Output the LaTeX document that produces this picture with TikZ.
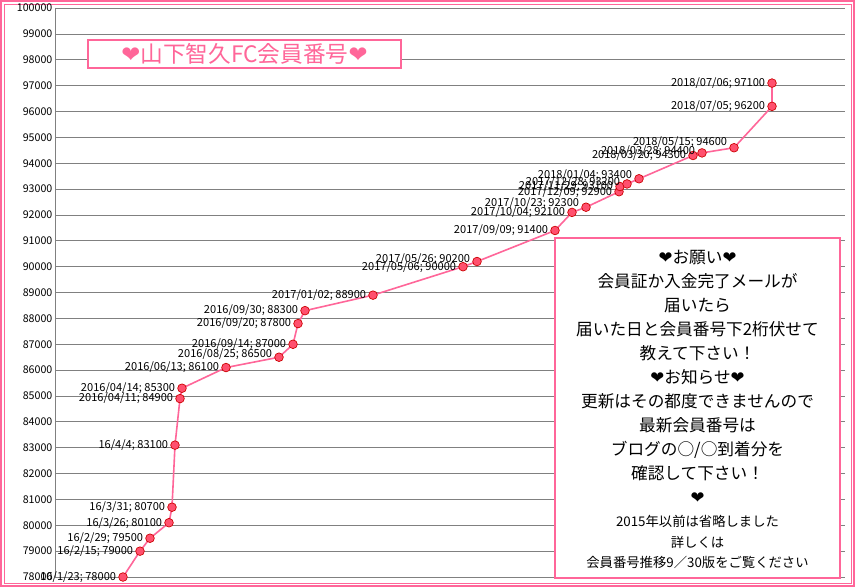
\documentclass[tikz,border=0pt]{standalone}
\usepackage{fontspec}
\setmainfont{Noto Sans CJK JP}
\newfontfamily\djv{DejaVu Sans}
\definecolor{pk}{RGB}{255,102,153}
\definecolor{dot}{RGB}{255,80,110}
\begin{document}
\begin{tikzpicture}[x=0.75pt,y=0.75pt,
  lab/.style={font=\fontsize{8.3}{9}\selectfont,anchor=east,inner sep=1pt},
  ax/.style={font=\fontsize{8}{9}\selectfont,anchor=east,inner sep=1pt},
  pt/.style={circle,fill=dot,draw=red!80!black,line width=0.5pt,minimum size=6.5pt,inner sep=0pt}]
\useasboundingbox (0,0) rectangle (855,-587);
\fill[white] (0,0) rectangle (855,-587);
\draw[pk,line width=0.8pt] (1,-1) rectangle (854,-586);
\draw[pk,line width=0.5pt] (4,-4) rectangle (851,-583);
\begin{scope}[shift={(0,-577)},y=19.395pt]
\foreach \v in {0,...,22}{
  \draw[gray,line width=0.6pt] (55,\v) -- (845,\v);
  \node[ax] (ax\v) at (54,\v) {\the\numexpr78000+1000*\v\relax};
}
\draw[gray,line width=0.6pt] (55,0) -- (55,22);
\foreach \n/\x/\v in {a/123/0, b/140/1, c/150/1.5, d/169/2.1, e/172/2.7, f/175/5.1, g/180/6.9, h/182/7.3,
 i/226/8.1, j/279/8.5, k/293/9, l/298/9.8, m/305/10.3, n/373/10.9, o/463/12, p/477/12.2, q/555/13.4,
 r/572/14.1, s/586/14.3, t/619/14.9, u/620/15.1, v/627/15.2, w/639/15.4, x/693/16.3, y/702/16.4,
 z/734/16.6, A/772/18.2, B/772/19.1}{
  \coordinate (\n) at (\x,\v);
}
\draw[pk,line width=1.2pt] (a)--(b)--(c)--(d)--(e)--(f)--(g)--(h)--(i)--(j)--(k)--(l)--(m)--(n)--(o)--(p)--(q)--(r)--(s)--(t)--(u)--(v)--(w)--(x)--(y)--(z)--(A)--(B);
\foreach \n/\t/\dy in {a/{16/1/23; 78000}/0, b/{16/2/15; 79000}/0, c/{16/2/29; 79500}/0, d/{16/3/26; 80100}/0, e/{16/3/31; 80700}/0, f/{16/4/4; 83100}/0,
 g/{2016/04/11; 84900}/0, h/{2016/04/14; 85300}/0, i/{2016/06/13; 86100}/0, j/{2016/08/25; 86500}/0.1, k/{2016/09/14; 87000}/0, l/{2016/09/20; 87800}/0,
 m/{2016/09/30; 88300}/0, n/{2017/01/02; 88900}/0, o/{2017/05/06; 90000}/0, p/{2017/05/26; 90200}/0.1, q/{2017/09/09; 91400}/0, r/{2017/10/04; 92100}/0,
 s/{2017/10/23; 92300}/0.15, t/{2017/12/09; 92900}/0, u/{2017/11/29; 93100}/0, v/{2017/12/28; 93200}/0.05, w/{2018/01/04; 93400}/0.15,
 x/{2018/03/20; 94300}/0, y/{2018/03/28; 94400}/0.05, z/{2018/05/15; 94600}/0.2, A/{2018/07/05; 96200}/0, B/{2018/07/06; 97100}/0}{
  \node[pt] (P\n) at (\n) {};
  \node[lab] (L\n) at ([xshift=-4pt,yshift=\dy*19.395pt]\n) {\t};
}
\end{scope}
\node[draw=pk,line width=0.8pt,fill=white,minimum width=234.75pt,minimum height=21pt,inner sep=0pt,text=pk,font=\fontsize{17}{18}\selectfont] (title) at (244.5,-54) {{\djv ❤}山下智久FC会員番号{\djv ❤}};
\node[draw=pk,line width=0.8pt,fill=white,minimum width=213.75pt,minimum height=255pt,inner sep=0pt] (box) at (697.5,-408) {};
\node[align=center,font=\fontsize{12.5}{18}\selectfont] (msg1) at (697.5,-377) {{\djv ❤}お願い{\djv ❤}\\会員証か入金完了メールが\\届いたら\\届いた日と会員番号下2桁伏せて\\教えて下さい！\\{\djv ❤}お知らせ{\djv ❤}\\更新はその都度できませんので\\最新会員番号は\\ブログの○/○到着分を\\確認して下さい！\\{\djv ❤}};
\node[align=center,font=\fontsize{10}{15.5}\selectfont] (msg2) at (697.5,-542) {2015年以前は省略しました\\詳しくは\\会員番号推移9／30版をご覧ください};
\end{tikzpicture}
\end{document}
